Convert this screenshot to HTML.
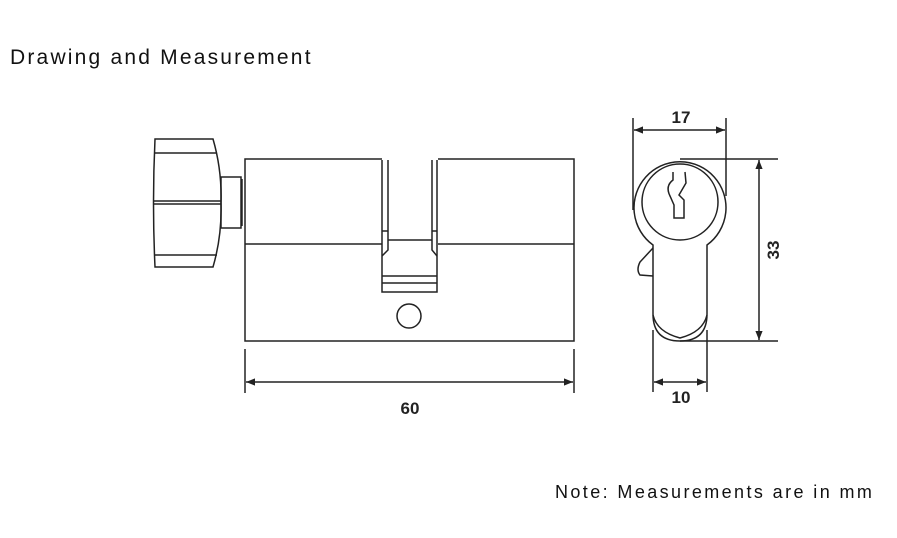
<!DOCTYPE html>
<html><head><style>
html,body{margin:0;padding:0;background:#fff;}
body{width:897px;height:538px;position:relative;overflow:hidden;font-family:"Liberation Sans",sans-serif;}
.t{position:absolute;color:#111;white-space:nowrap;}
</style></head><body>
<div class="t" style="left:10px;top:46px;font-size:21px;letter-spacing:2.2px;">Drawing and Measurement</div>
<div class="t" style="left:555px;top:482px;font-size:18px;letter-spacing:2.4px;">Note: Measurements are in mm</div>
<svg width="897" height="538" style="position:absolute;left:0;top:0" fill="none" stroke="#222" stroke-width="1.5">
<defs><marker id="a" viewBox="0 0 10 10" refX="10" refY="5" markerWidth="8" markerHeight="6" orient="auto-start-reverse"><path d="M0,1 L10,5 L0,9z" fill="#222" stroke="none"/></marker></defs>
<path d="M155,139 L213,139 Q222,170 221,203 Q222,236 213,267 L155,267 Q152,203 155,139z"/>
<line x1="154" y1="153" x2="217" y2="153"/>
<line x1="153" y1="201" x2="221" y2="201"/>
<line x1="153" y1="204" x2="221" y2="204"/>
<line x1="154" y1="255" x2="217" y2="255"/>
<rect x="221" y="177" width="20" height="51"/>
<line x1="242" y1="179" x2="242" y2="226"/>
<path d="M382,159 L245,159 L245,341 L574,341 L574,159 L438,159"/>
<line x1="245" y1="244" x2="382" y2="244"/>
<line x1="438" y1="244" x2="574" y2="244"/>
<path d="M382,160 L382,292 L437,292 L437,160"/>
<path d="M388,160 L388,250 L382,256"/>
<path d="M432,160 L432,250 L437,256"/>
<line x1="382" y1="231" x2="388" y2="231"/><line x1="432" y1="231" x2="437" y2="231"/>
<line x1="388" y1="240" x2="432" y2="240"/>
<line x1="382" y1="276" x2="437" y2="276"/>
<line x1="382" y1="283" x2="437" y2="283"/>
<circle cx="409" cy="316" r="12"/>
<line x1="245" y1="349" x2="245" y2="393"/><line x1="574" y1="349" x2="574" y2="393"/>
<line x1="246" y1="382" x2="573" y2="382" marker-start="url(#a)" marker-end="url(#a)"/>
<path d="M653,245 A46,46 0 1 1 707,245 L707,314 Q707,341 680,341 Q653,341 653,314 Z"/>
<circle cx="680" cy="202" r="38"/>
<path d="M653,315 Q657,332 680,338 Q703,332 707,315"/>
<path d="M653,248 L640,262 Q636,270 640,275 L653,276"/>
<path d="M673,172 L673,180 Q665,186 670,196 L674,205 L674,218 L684,218 L684,200 L679,195 L686,183 L685,172"/>
<line x1="633" y1="118" x2="633" y2="210"/><line x1="726" y1="118" x2="726" y2="196"/>
<line x1="634" y1="130" x2="725" y2="130" marker-start="url(#a)" marker-end="url(#a)"/>
<line x1="680" y1="159" x2="778" y2="159"/><line x1="680" y1="341" x2="778" y2="341"/>
<line x1="759" y1="160" x2="759" y2="340" marker-start="url(#a)" marker-end="url(#a)"/>
<line x1="653" y1="330" x2="653" y2="392"/><line x1="707" y1="330" x2="707" y2="392"/>
<line x1="654" y1="382" x2="706" y2="382" marker-start="url(#a)" marker-end="url(#a)"/>
<g fill="#222" stroke="none" font-family="Liberation Sans,sans-serif" font-size="17" font-weight="bold" text-anchor="middle">
<text x="410" y="414">60</text>
<text x="681" y="123">17</text>
<text x="681" y="403">10</text>
<text transform="translate(779,250) rotate(-90)">33</text>
</g>
</svg>
</body></html>
